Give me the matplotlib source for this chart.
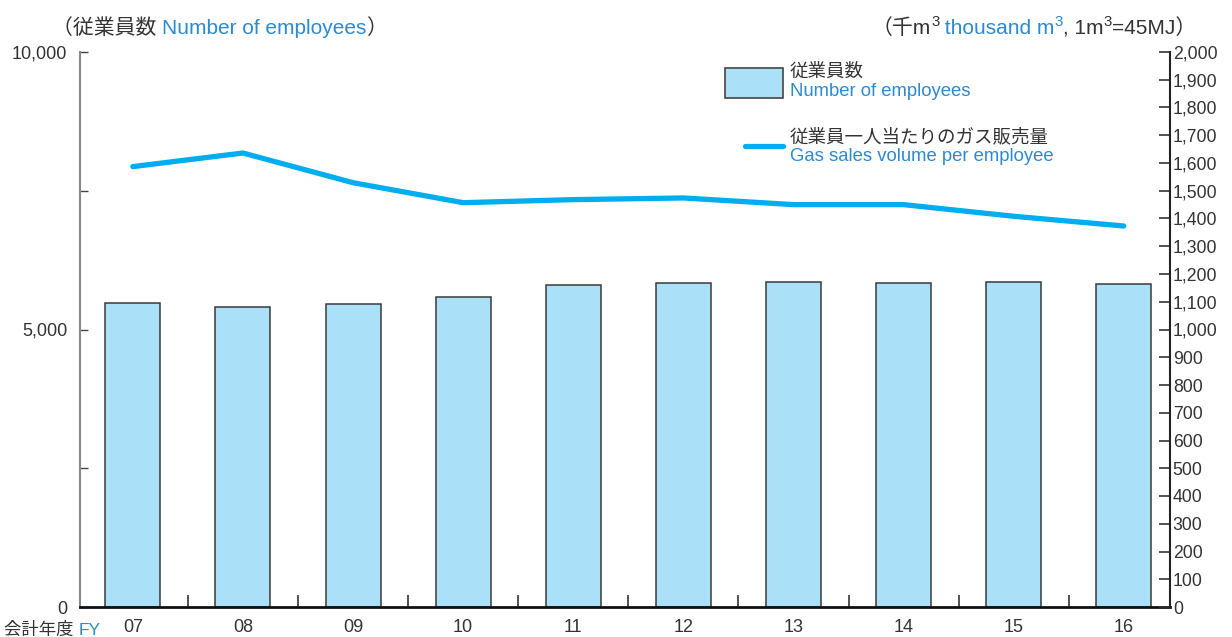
import matplotlib
matplotlib.use("Agg")
import matplotlib.pyplot as plt
from matplotlib.patches import Rectangle
from matplotlib.lines import Line2D
import numpy as np

plt.rcParams['font.family'] = ['Liberation Sans', 'Noto Sans CJK JP', 'DejaVu Sans']

years = ["07", "08", "09", "10", "11", "12", "13", "14", "15", "16"]
employees = [5470, 5411, 5465, 5580, 5796, 5832, 5861, 5844, 5856, 5826]
sales_per_employee = [1587, 1636, 1529, 1457, 1468, 1474, 1450, 1450, 1408, 1373]

left_ticks = [0, 2500, 5000, 7500, 10000]
left_labels = ["0", "", "5,000", "", "10,000"]
right_ticks = list(range(0, 2001, 100))

W, H = 1232, 637
BLUE_TXT = "#2B8AD0"
DARK = "#333333"
BAR = "#ABE0F9"
LINE = "#00AEEF"

fig = plt.figure(figsize=(W / 100, H / 100), dpi=100)
ax = fig.add_axes([80 / W, (H - 607) / H, (1170 - 80) / W, (607 - 52) / H])
ax2 = ax.twinx()

x = np.arange(len(years))
ax.bar(x, employees, width=0.5, color=BAR, edgecolor="#3a3a3a", linewidth=1.1, zorder=2)
ax2.plot(x, sales_per_employee, color=LINE, linewidth=3.8, solid_capstyle="round",
         solid_joinstyle="round", zorder=3)

ax.set_xlim(-0.48, 9.42)
ax.set_ylim(0, 10000)
ax2.set_ylim(0, 2000)

ax.set_yticks(left_ticks)
ax.set_yticklabels(left_labels)
ax.tick_params(axis="y", direction="in", length=6, width=1.0, color="#444444",
               labelsize=13, labelcolor=DARK, pad=9)
ax.set_xticks(x)
ax.set_xticklabels(years)
ax.set_xticks(np.arange(0.5, 9.0, 1.0), minor=True)
ax.tick_params(axis="x", which="major", length=0, labelsize=13, labelcolor=DARK, pad=9)
ax.tick_params(axis="x", which="minor", direction="in", length=9, width=1.2, color="#333333")

ax2.set_yticks(right_ticks)
ax2.set_yticklabels([f"{v:,}" for v in right_ticks])
ax2.tick_params(axis="y", direction="in", length=8, width=1.2, color="#333333",
                labelsize=12.7, labelcolor=DARK, pad=2)

for a in (ax, ax2):
    a.spines["top"].set_visible(False)
ax.spines["left"].set_color("#888888")
ax.spines["left"].set_linewidth(1.5)
ax.spines["bottom"].set_color("#111111")
ax.spines["bottom"].set_linewidth(2.0)
ax2.spines["left"].set_visible(False)
ax2.spines["bottom"].set_visible(False)
ax2.spines["right"].set_color("#222222")
ax2.spines["right"].set_linewidth(1.5)
ax.spines["right"].set_visible(False)


def px(xp, yp):
    return xp / W, (H - yp) / H


renderer = fig.canvas.get_renderer()


def chain(pieces, x0, y_base, size):
    """pieces: list of (text, color, is_superscript)"""
    xc = x0
    for txt, col, sup in pieces:
        fs = size * 0.72 if sup else size
        yy = y_base - (size * 0.40 * 100 / 72 if sup else 0)
        t = fig.text(*px(xc, yy), txt, color=col, fontsize=fs, va="baseline", ha="left")
        bb = t.get_window_extent(renderer)
        xc += bb.width


# Titles
chain([("（従業員数 ", DARK, False), ("Number of employees", BLUE_TXT, False), ("）", DARK, False)],
      52, 34, 15)
chain([("（千m", DARK, False), ("3", DARK, True), (" thousand m", BLUE_TXT, False), ("3", BLUE_TXT, True),
       (", 1m", DARK, False), ("3", DARK, True), ("=45MJ）", DARK, False)],
      872, 34, 15)

# FY label
chain([("会計年度 ", DARK, False), ("FY", BLUE_TXT, False)], 4, 635, 12.5)

# Legend
rx, ry = px(725, 98)
fig.patches.append(Rectangle((rx, ry), 58 / W, 30 / H, transform=fig.transFigure,
                             facecolor=BAR, edgecolor="#444444", linewidth=1.2))
lx0, ly = px(745, 146)
lx1, _ = px(783, 146)
fig.lines.append(Line2D([lx0, lx1], [ly, ly], transform=fig.transFigure, color=LINE,
                        linewidth=3.8, solid_capstyle="round"))
fig.text(*px(790, 72), "従業員数", color=DARK, fontsize=13.3, va="center", ha="left")
fig.text(*px(790, 91), "Number of employees", color=BLUE_TXT, fontsize=13.3, va="center", ha="left")
fig.text(*px(790, 137), "従業員一人当たりのガス販売量", color=DARK, fontsize=13.3, va="center", ha="left")
fig.text(*px(790, 157), "Gas sales volume per employee", color=BLUE_TXT, fontsize=13.3, va="center", ha="left")

fig.savefig("out.png", dpi=100)
